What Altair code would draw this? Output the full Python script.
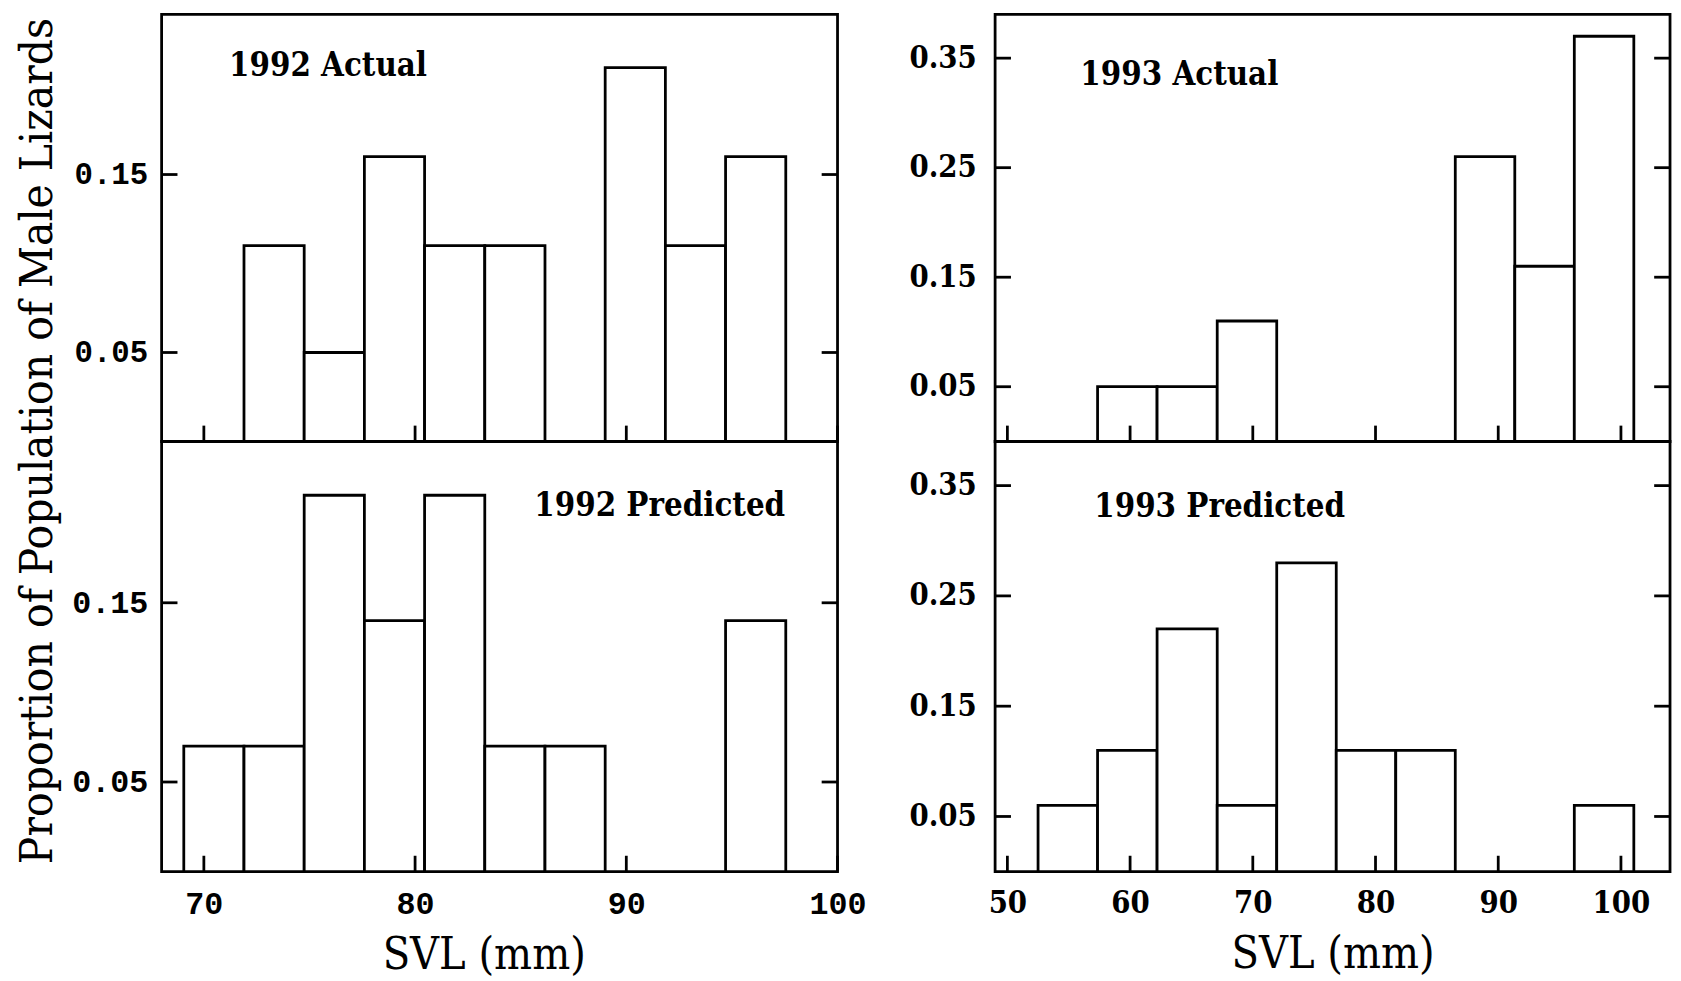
import altair as alt
import pandas as pd

# ---- data ----
edges_1992 = [69.05, 71.9, 74.75, 77.6, 80.45, 83.3, 86.15, 89.0, 91.85, 94.7, 97.55]
actual_1992 = [0, 0.11, 0.05, 0.16, 0.11, 0.11, 0, 0.21, 0.11, 0.16]
predicted_1992 = [0.07, 0.07, 0.21, 0.14, 0.21, 0.07, 0.07, 0, 0, 0.14]

edges_1993 = [52.5, 57.35, 62.2, 67.1, 71.95, 76.8, 81.65, 86.5, 91.35, 96.2, 101.05]
actual_1993 = [0, 0.05, 0.05, 0.11, 0, 0, 0, 0.26, 0.16, 0.37]
predicted_1993 = [0.06, 0.11, 0.22, 0.06, 0.28, 0.11, 0.11, 0, 0, 0.06]

xticks_1992 = [70, 80, 90, 100]
xticks_1993 = [50, 60, 70, 80, 90, 100]
yticks_1992 = [0.05, 0.15]
yticks_1993 = [0.05, 0.15, 0.25, 0.35]

xdomain_1992 = [68, 100]
xdomain_1993 = [49, 104]
ydomain_1992 = [0, 0.24]
ydomain_1993 = [0, 0.39]

panel_labels = ["1992 Actual", "1992 Predicted", "1993 Actual", "1993 Predicted"]
x_title = "SVL (mm)"
y_title = "Proportion of Population of Male Lizards"

SERIF = "DejaVu Serif Condensed, DejaVu Serif"
MONO = "Liberation Mono"
LW = 2.8
TICK = 16


def panel(edges, values, label, xdom, ydom, xticks, yticks, w, h, bottom,
          lab_font, lab_size, ylab_pad, tx, ty, ytitle=False, xtitle_shift=0):
    bars = pd.DataFrame({"start": edges[:-1], "end": edges[1:], "value": values})
    bars = bars[bars["value"] > 0]

    xscale = alt.Scale(domain=xdom, nice=False, zero=False)
    yscale = alt.Scale(domain=ydom, nice=False, zero=False)

    if bottom:
        xaxis = alt.Axis(values=xticks, ticks=False, tickSize=0, domain=False, grid=False,
                         labelFont=lab_font, labelFontSize=lab_size, labelFontWeight="bold",
                         labelColor="black", labelPadding=17, labelFlush=False,
                         labelOverlap=False, title=x_title, titleFont=SERIF,
                         titleFontSize=45, titleFontWeight="normal", titleColor="black",
                         titlePadding=14, titleX=w / 2 + xtitle_shift, titleAlign="center")
    else:
        xaxis = None

    yargs = dict(values=yticks, format=".2f", ticks=False, tickSize=0, domain=False,
                 grid=False, labelFont=lab_font, labelFontSize=lab_size,
                 labelFontWeight="bold", labelColor="black", labelPadding=ylab_pad,
                 labelOverlap=False, labelFlush=False)
    if ytitle:
        yargs.update(title=y_title, titleFont=SERIF, titleFontSize=46,
                     titleFontWeight="normal", titleColor="black", titleAngle=270,
                     titleX=-125, titleY=h - 1, titleAlign="center", titleBaseline="middle")
    else:
        yargs.update(title=None)
    yaxis = alt.Axis(**yargs)

    X = lambda f: alt.X(f, scale=xscale, axis=xaxis)
    Y = lambda f: alt.Y(f, scale=yscale, axis=yaxis)

    bar_layer = alt.Chart(bars).mark_rect(fill="white", stroke="black", strokeWidth=LW).encode(
        x=X("start:Q"), x2="end:Q", y=Y("value:Q"), y2=alt.datum(0)
    )
    xt = pd.DataFrame({"t": xticks})
    yt = pd.DataFrame({"t": yticks})
    xtick_layer = alt.Chart(xt).mark_rule(stroke="black", strokeWidth=LW).encode(
        x=X("t:Q"), y=alt.value(h), y2=alt.value(h - TICK)
    )
    ytick_left = alt.Chart(yt).mark_rule(stroke="black", strokeWidth=LW).encode(
        y=Y("t:Q"), x=alt.value(0), x2=alt.value(TICK)
    )
    ytick_right = alt.Chart(yt).mark_rule(stroke="black", strokeWidth=LW).encode(
        y=Y("t:Q"), x=alt.value(w - TICK), x2=alt.value(w)
    )
    text_layer = alt.Chart(pd.DataFrame({"label": [label]})).mark_text(
        font=SERIF, fontSize=33, fontWeight="bold", color="black",
        align="left", baseline="middle"
    ).encode(text="label:N", x=alt.value(tx), y=alt.value(ty))

    return alt.layer(bar_layer, xtick_layer, ytick_left, ytick_right, text_layer).properties(
        width=w, height=h
    )


WL, WR, HT, HB = 682, 681, 431, 434

top_l = panel(edges_1992, actual_1992, panel_labels[0], xdomain_1992, ydomain_1992,
              xticks_1992, yticks_1992, WL, HT, False, MONO, 31, 14, 68, 52, ytitle=True)
bot_l = panel(edges_1992, predicted_1992, panel_labels[1], xdomain_1992, ydomain_1992,
              xticks_1992, yticks_1992, WL, HB, True, MONO, 32, 14, 376, 65, xtitle_shift=-16)
top_r = panel(edges_1993, actual_1993, panel_labels[2], xdomain_1993, ydomain_1993,
              xticks_1993, yticks_1993, WR, HT, False, SERIF, 31, 19, 86, 61)
bot_r = panel(edges_1993, predicted_1993, panel_labels[3], xdomain_1993, ydomain_1993,
              xticks_1993, yticks_1993, WR, HB, True, SERIF, 31, 19, 100, 66)

chart = alt.concat(top_l, top_r, bot_l, bot_r, columns=2,
                   spacing={"row": 0, "column": 159}, bounds="flush").properties(
    padding={"left": 5, "top": 0, "right": 0, "bottom": 0},
    background="white",
).configure_view(stroke="black", strokeWidth=LW)

chart.save("out.html", embed_options={"renderer": "svg", "actions": False})
